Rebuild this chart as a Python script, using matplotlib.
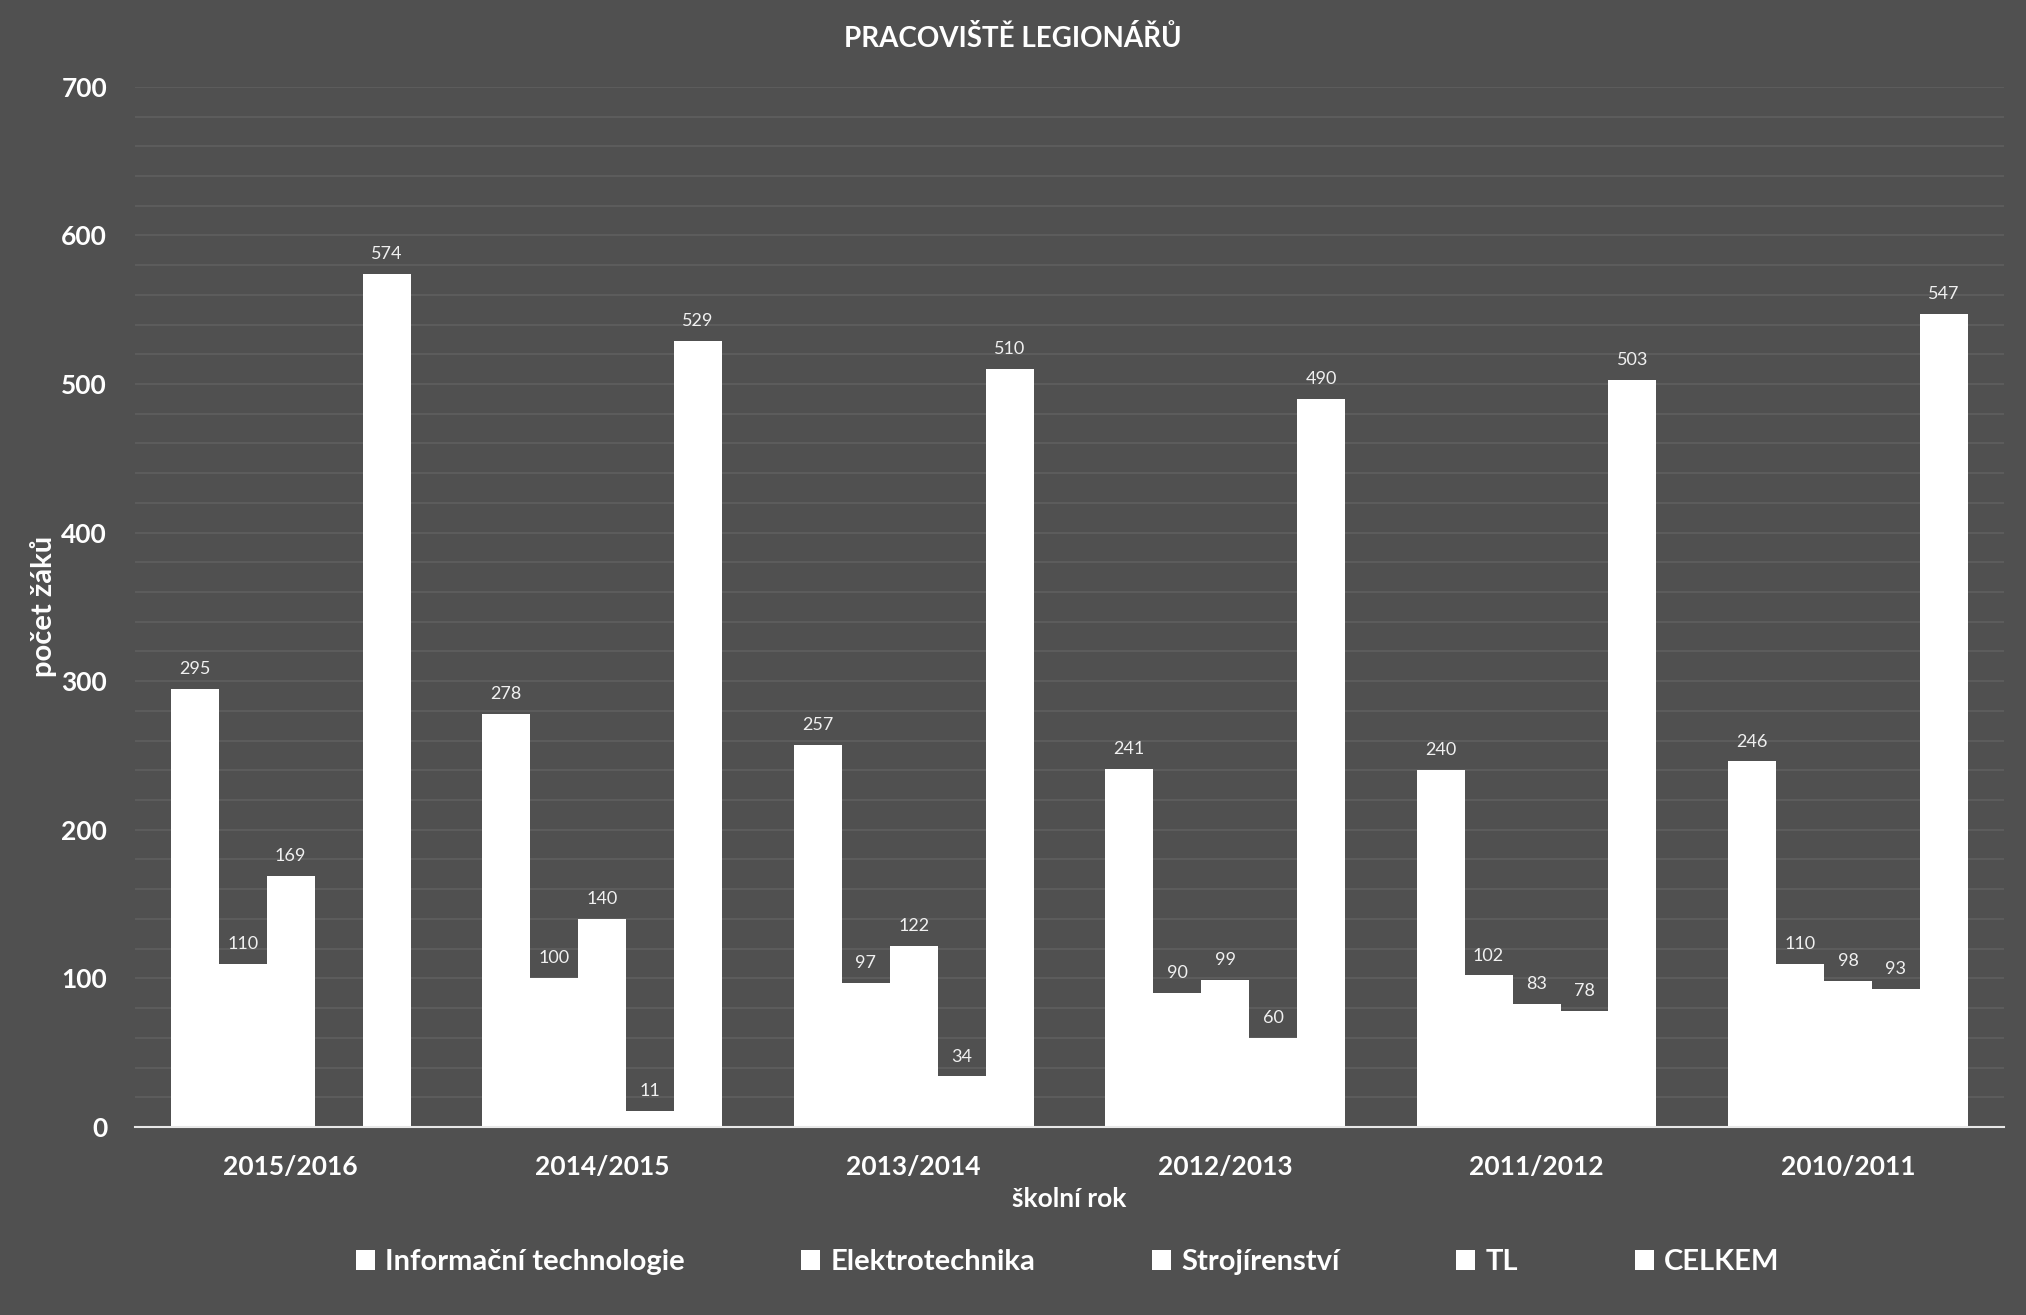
import numpy as np
import matplotlib
matplotlib.use("Agg")
import matplotlib.pyplot as plt
from matplotlib.ticker import MultipleLocator

years = ["2015/2016", "2014/2015", "2013/2014", "2012/2013", "2011/2012", "2010/2011"]
series = ["Informační technologie", "Elektrotechnika", "Strojírenství", "TL", "CELKEM"]
it_vals = [295, 278, 257, 241, 240, 246]
elektro_vals = [110, 100, 97, 90, 102, 110]
stroj_vals = [169, 140, 122, 99, 83, 98]
tl_vals = [np.nan, 11, 34, 60, 78, 93]
celkem_vals = [574, 529, 510, 490, 503, 547]

BG = "#505050"
GRID = "#5f5f5f"

plt.rcParams["font.family"] = ["Lato", "DejaVu Sans"]

fig = plt.figure(figsize=(20.26, 13.15), dpi=100, facecolor=BG)
ax = fig.add_axes([0.0666, 0.143, 0.9224, 0.791], facecolor=BG)

x = np.arange(len(years))
width = 0.154
data = [it_vals, elektro_vals, stroj_vals, tl_vals, celkem_vals]
for i, (name, vals) in enumerate(zip(series, data)):
    pos = x + (i - 2) * width
    ax.bar(pos, vals, width, color="white", label=name, zorder=3)
    for p, v in zip(pos, vals):
        if np.isnan(v):
            continue
        ax.text(p, v + 8, str(int(v)), ha="center", va="bottom",
                color="#f0f0f0", fontsize=13, zorder=4)

ax.set_xlim(-0.5, len(years) - 0.5)
ax.set_ylim(0, 700)
ax.yaxis.set_major_locator(MultipleLocator(100))
ax.yaxis.set_minor_locator(MultipleLocator(20))
ax.grid(axis="y", which="both", color=GRID, lw=1.2, zorder=0)
ax.set_xticks(x)
ax.set_xticklabels(years, fontsize=19, fontweight="bold", color="white")
for lab in ax.get_yticklabels():
    lab.set_fontsize(19)
    lab.set_fontweight("bold")
    lab.set_color("white")
ax.tick_params(axis="both", which="both", length=0)
ax.tick_params(axis="x", pad=20)
ax.tick_params(axis="y", pad=20)
for s in ["top", "right", "left"]:
    ax.spines[s].set_visible(False)
ax.spines["bottom"].set_color("#e8e8e8")
ax.spines["bottom"].set_linewidth(1.5)
ax.spines["bottom"].set_zorder(5)

fig.text(0.5, 0.9705, "PRACOVIŠTĚ LEGIONÁŘŮ", ha="center", va="center",
         fontsize=20, fontweight="bold", color="white")
ax.set_xlabel("školní rok", fontsize=19, fontweight="bold", color="white", labelpad=6)
ax.set_ylabel("počet žáků", fontsize=21, fontweight="bold", color="white", labelpad=3)

leg = fig.legend(loc="center", bbox_to_anchor=(0.527, 0.040), ncol=5, frameon=False,
                 fontsize=21, handlelength=0.65, handleheight=0.65, handletextpad=0.35,
                 columnspacing=4.0)
for t in leg.get_texts():
    t.set_color("white")
    t.set_fontweight("bold")

fig.savefig("out.png", dpi=100, facecolor=BG)
